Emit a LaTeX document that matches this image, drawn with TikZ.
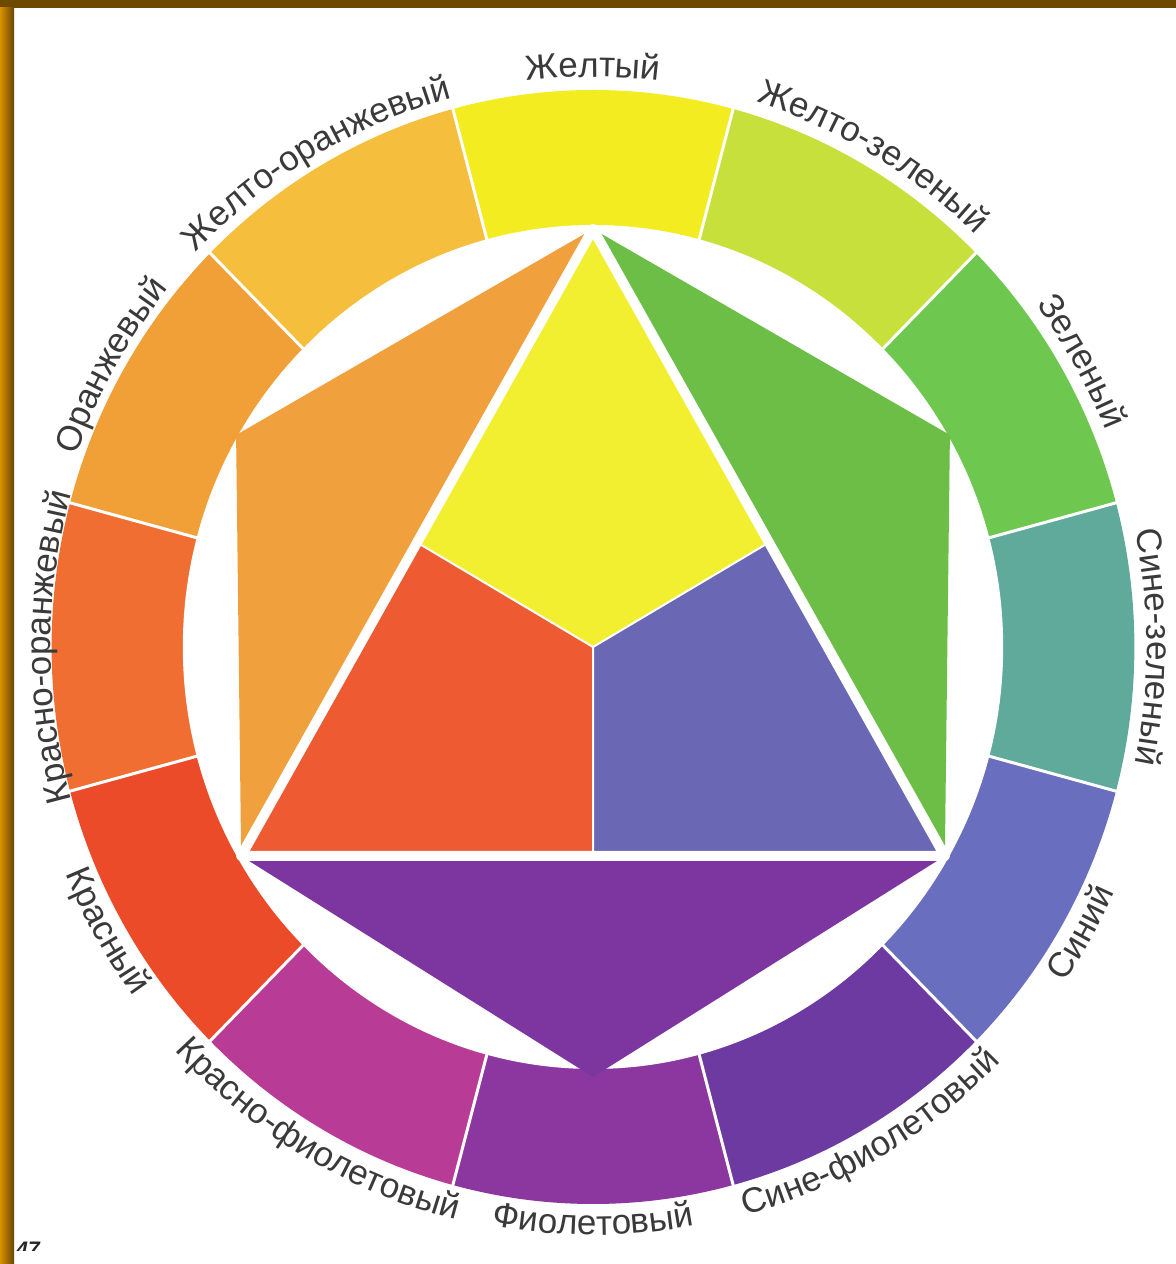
\documentclass[tikz,border=0pt]{standalone}
\usepackage{fontspec}
\setmainfont{Liberation Sans}
\usetikzlibrary{decorations.text}
\definecolor{ringY}{HTML}{F2EC20}
\definecolor{ringYG}{HTML}{C8E03C}
\definecolor{ringG}{HTML}{6EC850}
\definecolor{ringBG}{HTML}{5FAA9B}
\definecolor{ringB}{HTML}{696EBE}
\definecolor{ringBV}{HTML}{6C3AA0}
\definecolor{ringV}{HTML}{8C379F}
\definecolor{ringRV}{HTML}{B83C96}
\definecolor{ringR}{HTML}{EB4B28}
\definecolor{ringRO}{HTML}{F06E32}
\definecolor{ringO}{HTML}{F0A037}
\definecolor{ringYO}{HTML}{F5BE3C}
\definecolor{inY}{HTML}{F2EE30}
\definecolor{inR}{HTML}{EE5A32}
\definecolor{inB}{HTML}{6A68B4}
\definecolor{inO}{HTML}{F0A03C}
\definecolor{inG}{HTML}{6CBE46}
\definecolor{inV}{HTML}{7D35A0}
\definecolor{lblgray}{HTML}{3A3A3A}
\definecolor{frameTop}{HTML}{6E4A00}
\definecolor{frameL}{HTML}{D89000}
\definecolor{frameR}{HTML}{6A4400}
\newcommand\lblfont{\fontsize{17.5}{20}\selectfont\color{lblgray}}
% top labels: clockwise arc, letters' tops outward
\newcommand\toplabel[3]{%
  \path[decorate, decoration={text along path, text align=center, text={|\lblfont|#3}}]
    ([shift={({0.972*#2*cos(#1+50)},{#2*sin(#1+50)})}]593,617)
    arc[start angle=#1+50, end angle=#1-50, x radius={0.972*#2}, y radius=#2];}
% bottom labels: counter-clockwise arc, letters' tops inward
\newcommand\botlabel[3]{%
  \path[decorate, decoration={text along path, text align=center, text={|\lblfont|#3}}]
    ([shift={({0.972*#2*cos(#1-50)},{#2*sin(#1-50)})}]593,617)
    arc[start angle=#1-50, end angle=#1+50, x radius={0.972*#2}, y radius=#2];}
\begin{document}
\begin{tikzpicture}[x=0.5pt,y=0.5pt]
\useasboundingbox (0,0) rectangle (1176,1264);
\clip (0,0) rectangle (1176,1264);
\fill[white] (0,0) rectangle (1176,1264);

\begin{scope}[shift={(593,617)}, xscale=0.972]
  % outer ring of twelve colours
  \foreach \a/\c in {90/ringY,60/ringYG,30/ringG,0/ringBG,-30/ringB,-60/ringBV,
                     -90/ringV,-120/ringRV,-150/ringR,180/ringRO,150/ringO,120/ringYO}
    \fill[\c] (0,0) -- (\a-15:557) arc[start angle=\a-15, end angle=\a+15, radius=557] -- cycle;
  \fill[white] (0,0) circle[radius=422];
  \foreach \a in {15,45,...,345}
    \draw[white, line width=1.5pt] (\a:410) -- (\a:570);

  % hexagon: primary triangle and the three secondary triangles
  \coordinate (A)  at (90:418);
  \coordinate (B)  at (210:418);
  \coordinate (Cv) at (330:418);
  \coordinate (Gt) at (30:424);
  \coordinate (Ot) at (150:424);
  \coordinate (Vt) at (270:430);
  \coordinate (M1) at (150:209);
  \coordinate (M2) at (270:209);
  \coordinate (M3) at (30:209);
  \coordinate (Z)  at (0,0);
  \fill[inO] (A) -- (Ot) -- (B) -- cycle;
  \fill[inG] (A) -- (Gt) -- (Cv) -- cycle;
  \fill[inV] (B) -- (Vt) -- (Cv) -- cycle;
  \fill[inY] (A) -- (M1) -- (Z) -- (M3) -- cycle;
  \fill[inR] (M1) -- (B) -- (M2) -- (Z) -- cycle;
  \fill[inB] (Z) -- (M2) -- (Cv) -- (M3) -- cycle;
  \draw[white, line width=1pt] (Z) -- (M1) (Z) -- (M2) (Z) -- (M3);
  \draw[white, line width=5pt, line join=round] (A) -- (B) -- (Cv) -- cycle;
\end{scope}

% labels
\toplabel{90}{570}{Желтый}
\toplabel{60}{570}{Желто-зеленый}
\toplabel{30}{570}{Зеленый}
\toplabel{0}{570}{Сине-зеленый}
\toplabel{180}{558}{Красно-оранжевый}
\toplabel{150}{565}{Оранжевый}
\toplabel{120}{568}{Желто-оранжевый}
\botlabel{-30}{590}{Синий}
\botlabel{-60}{590}{Сине-фиолетовый}
\botlabel{-90}{588}{Фиолетовый}
\botlabel{-120}{590}{Красно-фиолетовый}
\botlabel{-150}{588}{Красный}

% page number, cut by the scan
\begin{scope}
  \clip (14,13) rectangle (70,23);
  \node[anchor=north west, inner sep=0pt, text=black!85,
        font=\fontsize{10.5}{12}\selectfont\itshape\bfseries] (pg) at (16,22) {47};
\end{scope}

% frame
\fill[frameTop] (0,1256) rectangle (1176,1264);
\shade[left color=frameL, right color=frameR] (0,0) rectangle (14,1256);
\end{tikzpicture}
\end{document}
